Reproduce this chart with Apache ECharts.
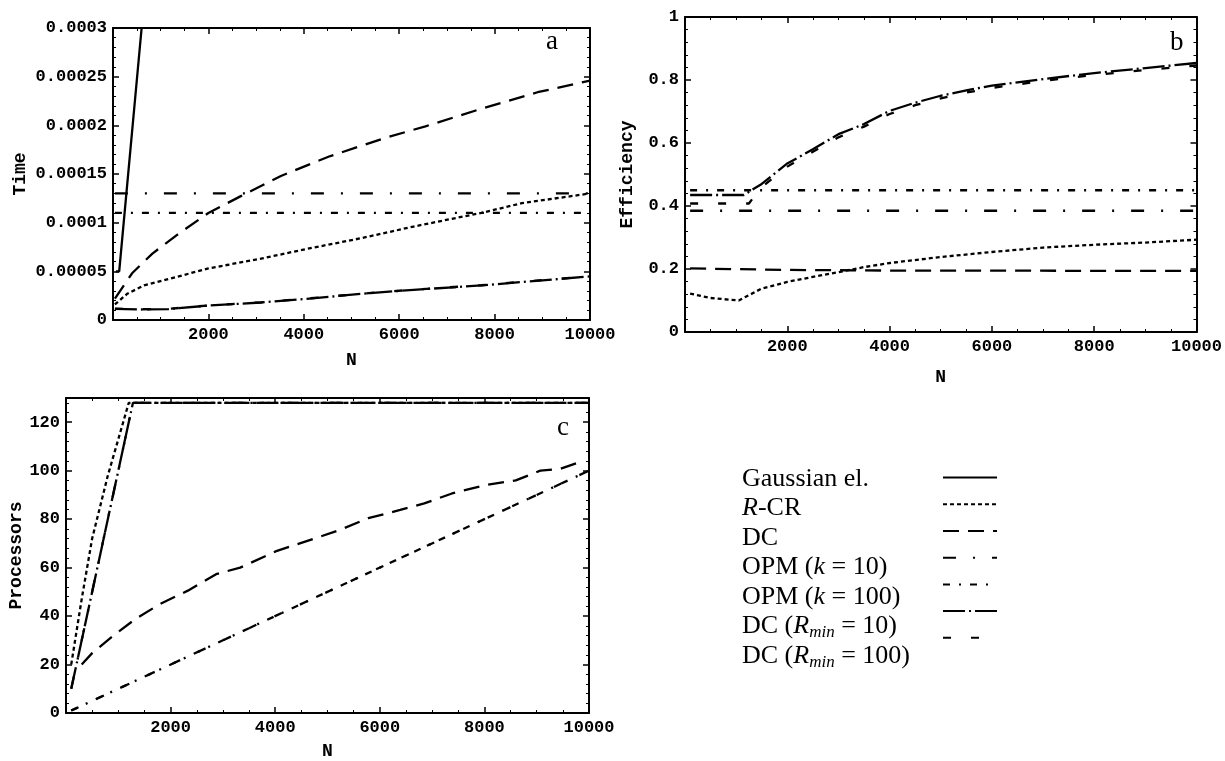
<!DOCTYPE html>
<html>
<head>
<meta charset="utf-8">
<script src="https://cdn.jsdelivr.net/npm/echarts@6/dist/echarts.min.js"></script>
<style>
html,body{margin:0;padding:0;background:#fff;}
#chart{width:1225px;height:761px;}
</style>
</head>
<body>
<div id="chart"></div>
<script>
// ---------- data ----------
const seriesNames = ['Gaussian el.', 'R-CR', 'DC', 'OPM (k = 10)', 'OPM (k = 100)', 'DC (Rmin = 10)', 'DC (Rmin = 100)'];

// x tick labels (N)
const nTicks = [2000, 4000, 6000, 8000, 10000];
// y tick labels
const timeTicks = ['0', '0.00005', '0.0001', '0.00015', '0.0002', '0.00025', '0.0003'];
const effTicks = ['0', '0.2', '0.4', '0.6', '0.8', '1'];
const procTicks = ['0', '20', '40', '60', '80', '100', '120'];

// Panel a: Time
const aGaussN = [60, 130, 600];
const aGaussT = [0.00005, 0.00005, 0.0003];
const aRcrN = [40, 300, 650, 1160, 2000, 3100, 4060, 5200, 6300, 7720, 8570, 10000];
const aRcrT = [0.000016, 0.000027, 0.0000355, 0.000042, 0.000053, 0.000063, 0.000073, 0.000084, 0.000096, 0.00011, 0.00012, 0.00013];
const aDcN = [40, 400, 820, 1330, 2000, 2670, 3520, 4530, 5700, 6550, 7720, 8900, 10000];
const aDcT = [0.000022, 0.000048, 0.000068, 0.000087, 0.00011, 0.000127, 0.000148, 0.000168, 0.000187, 0.000199, 0.000217, 0.000234, 0.000246];
const aOpm10N = [40, 10000];
const aOpm10T = [0.00013, 0.00013];
const aOpm100N = [40, 10000];
const aOpm100T = [0.00011, 0.00011];
const aR10N = [40, 600, 1160, 2000, 3100, 4060, 5200, 6300, 7720, 8570, 10000];
const aR10T = [0.0000114, 0.0000108, 0.0000112, 0.0000148, 0.000018, 0.0000217, 0.0000269, 0.000031, 0.0000355, 0.000039, 0.0000448];
const aR100N = [40, 600, 1160, 2000, 3100, 4060, 5200, 6300, 7720, 8570, 10000];
const aR100T = [0.0000116, 0.000011, 0.0000114, 0.000015, 0.0000182, 0.000022, 0.000027, 0.0000312, 0.0000357, 0.0000392, 0.000045];

// Panel b: Efficiency
const bRcrN = [100, 500, 1050, 1500, 2000, 2500, 3000, 3500, 4000, 5000, 6000, 7000, 8000, 9000, 10000];
const bRcrE = [0.122, 0.108, 0.100, 0.138, 0.159, 0.175, 0.19, 0.206, 0.219, 0.238, 0.254, 0.268, 0.277, 0.284, 0.293];
const bDcN = [100, 2000, 4000, 6000, 8000, 10000];
const bDcE = [0.202, 0.197, 0.195, 0.195, 0.194, 0.194];
const bOpm10N = [100, 10000];
const bOpm10E = [0.385, 0.385];
const bOpm100N = [100, 10000];
const bOpm100E = [0.45, 0.45];
const bR10N = [100, 1150, 1300, 1500, 2000, 2500, 3000, 3500, 4000, 4500, 5000, 5500, 6000, 7000, 8000, 9000, 10000];
const bR10E = [0.435, 0.435, 0.45, 0.47, 0.535, 0.58, 0.628, 0.66, 0.702, 0.728, 0.75, 0.767, 0.782, 0.803, 0.822, 0.838, 0.854];
const bR100N = [100, 1250, 1350, 1500, 2000, 2500, 3000, 3500, 4000, 4500, 5000, 5500, 6000, 7000, 8000, 9000, 10000];
const bR100E = [0.408, 0.408, 0.43, 0.46, 0.525, 0.572, 0.618, 0.652, 0.692, 0.72, 0.742, 0.76, 0.775, 0.797, 0.816, 0.832, 0.846];

// Panel c: Processors
const cRcrN = [100, 300, 500, 800, 1200, 10000];
const cRcrP = [20, 47, 72, 98, 128, 128];
const cDcN = [300, 500, 880, 1340, 1800, 2330, 2870, 3330, 4020, 4780, 5240, 5780, 6390, 6850, 7380, 8000, 8600, 9070, 9450, 9910];
const cDcP = [20, 24.7, 31.5, 39, 45, 50.5, 57.3, 60, 66.8, 72.2, 75.6, 80.4, 83.8, 86.5, 90.6, 94, 96, 100, 100.8, 104.2];
const cOpm10N = [100, 1280, 10000];
const cOpm10P = [10, 128, 128];
const cOpm100N = [100, 10000];
const cOpm100P = [1, 100];
const cR10N = [100, 1280, 10000];
const cR10P = [10, 128, 128];
const cR100N = [100, 10000];
const cR100P = [1, 100];

// ---------- styles ----------
const dashFor = {
  'Gaussian el.': 'solid',
  'R-CR': [4, 3],
  'DC': [16, 9],
  'OPM (k = 10)': [13, 17, 2, 17],
  'OPM (k = 100)': [7, 9, 2, 9],
  'DC (Rmin = 10)': [22, 4, 2, 4],
  'DC (Rmin = 100)': [8, 20]
};
const MONO = "'Liberation Mono', 'Courier New', monospace";
const SERIF = "'Liberation Serif', 'Times New Roman', serif";
const LW = 2.3;

function zip(xs, ys) { return xs.map((x, i) => [x, ys[i]]); }
function mk(name, idx, xs, ys) {
  return {
    name: name, type: 'line', xAxisIndex: idx * 2, yAxisIndex: idx * 2,
    data: zip(xs, ys), symbol: 'none', animation: false, clip: true,
    lineStyle: { color: '#000', width: LW, type: dashFor[name] },
    itemStyle: { color: '#000' }
  };
}

const grids = [
  { left: 113, top: 28, width: 477, height: 292 },
  { left: 685, top: 17, width: 512, height: 315 },
  { left: 66, top: 398, width: 523, height: 319 }
];
const nameStyle = { fontFamily: MONO, fontSize: 18, fontWeight: 'bold', color: '#000' };

function xAxes(gi, gap) {
  const base = {
    gridIndex: gi, type: 'value', min: 0, max: 10000, interval: 2000,
    axisLine: { show: true, onZero: false, lineStyle: { color: '#000', width: 2 } },
    axisTick: { show: true, inside: true, length: 6, lineStyle: { color: '#000', width: 1.5 } },
    minorTick: { show: true, splitNumber: 4, length: 3, lineStyle: { color: '#000', width: 1 } },
    splitLine: { show: false }
  };
  return [
    Object.assign({}, base, {
      position: 'bottom', name: 'N', nameLocation: 'middle', nameGap: gap,
      nameTextStyle: nameStyle,
      axisLabel: {
        show: true, margin: 6, fontFamily: MONO, fontSize: 17, fontWeight: 'bold', color: '#000',
        formatter: v => (nTicks.indexOf(v) >= 0 ? String(v) : '')
      }
    }),
    Object.assign({}, base, { position: 'top', axisLabel: { show: false } })
  ];
}
function yAxes(gi, max, interval, labels, name, gap) {
  const base = {
    gridIndex: gi, type: 'value', min: 0, max: max, interval: interval,
    axisLine: { show: true, onZero: false, lineStyle: { color: '#000', width: 2 } },
    axisTick: { show: true, inside: true, length: 6, lineStyle: { color: '#000', width: 1.5 } },
    minorTick: { show: true, splitNumber: 5, length: 3, lineStyle: { color: '#000', width: 1 } },
    splitLine: { show: false }
  };
  return [
    Object.assign({}, base, {
      position: 'left', name: name, nameLocation: 'middle', nameGap: gap, nameRotate: 90,
      nameTextStyle: nameStyle,
      axisLabel: {
        show: true, margin: 6, fontFamily: MONO, fontSize: 17, fontWeight: 'bold', color: '#000',
        formatter: v => {
          const k = Math.round(v / interval);
          return (Math.abs(k * interval - v) < interval * 1e-6 && k < labels.length) ? labels[k] : '';
        }
      }
    }),
    Object.assign({}, base, { position: 'right', axisLabel: { show: false } })
  ];
}

const series = [
  mk('Gaussian el.', 0, aGaussN, aGaussT),
  mk('R-CR', 0, aRcrN, aRcrT),
  mk('DC', 0, aDcN, aDcT),
  mk('OPM (k = 10)', 0, aOpm10N, aOpm10T),
  mk('OPM (k = 100)', 0, aOpm100N, aOpm100T),
  mk('DC (Rmin = 10)', 0, aR10N, aR10T),
  mk('DC (Rmin = 100)', 0, aR100N, aR100T),

  mk('R-CR', 1, bRcrN, bRcrE),
  mk('DC', 1, bDcN, bDcE),
  mk('OPM (k = 10)', 1, bOpm10N, bOpm10E),
  mk('OPM (k = 100)', 1, bOpm100N, bOpm100E),
  mk('DC (Rmin = 10)', 1, bR10N, bR10E),
  mk('DC (Rmin = 100)', 1, bR100N, bR100E),

  mk('R-CR', 2, cRcrN, cRcrP),
  mk('DC', 2, cDcN, cDcP),
  mk('OPM (k = 10)', 2, cOpm10N, cOpm10P),
  mk('OPM (k = 100)', 2, cOpm100N, cOpm100P),
  mk('DC (Rmin = 10)', 2, cR10N, cR10P),
  mk('DC (Rmin = 100)', 2, cR100N, cR100P)
];

const LEG_Y = 474, LEG_STEP = 29.5, LEG_FS = 26;
const legendRich = {
  i: { fontFamily: SERIF, fontStyle: 'italic', fontSize: LEG_FS, lineHeight: LEG_STEP, color: '#000' },
  s: { fontFamily: SERIF, fontStyle: 'italic', fontSize: 17, lineHeight: 14, verticalAlign: 'bottom', color: '#000' }
};
function legendLabel(name) {
  if (name === 'R-CR') return '{i|R}-CR';
  if (name.indexOf('OPM') === 0) return name.replace('k', '{i|k}');
  if (name.indexOf('Rmin') >= 0) return name.replace('Rmin', '{i|R}{s|min}');
  return name;
}

const option = {
  backgroundColor: '#fff',
  animation: false,
  grid: grids,
  xAxis: [].concat(xAxes(0, 31), xAxes(1, 36), xAxes(2, 29)),
  yAxis: [].concat(
    yAxes(0, 0.0003, 0.00005, timeTicks, 'Time', 84),
    yAxes(1, 1, 0.2, effTicks, 'Efficiency', 49),
    yAxes(2, 130, 20, procTicks, 'Processors', 39)
  ),
  legend: [
    { // line samples
      data: seriesNames, orient: 'vertical', left: 937, top: LEG_Y - 7,
      itemWidth: 54, itemHeight: 14, itemGap: LEG_STEP - 14, selectedMode: false,
      formatter: () => '', textStyle: { fontSize: 8, lineHeight: 8 },
      itemStyle: { opacity: 0 }
    },
    { // text labels
      data: seriesNames, orient: 'vertical', left: 731, top: LEG_Y - LEG_STEP / 2,
      itemWidth: 1, itemHeight: 2, itemGap: 0, selectedMode: false, icon: 'rect',
      itemStyle: { opacity: 0 }, lineStyle: { opacity: 0 },
      formatter: legendLabel,
      textStyle: { fontFamily: SERIF, fontSize: LEG_FS, lineHeight: LEG_STEP, color: '#000', rich: legendRich }
    }
  ],
  graphic: [
    { type: 'text', left: 546, top: 28, style: { text: 'a', font: '27px ' + SERIF, fill: '#000' } },
    { type: 'text', left: 1170, top: 29, style: { text: 'b', font: '27px ' + SERIF, fill: '#000' } },
    { type: 'text', left: 557, top: 414, style: { text: 'c', font: '27px ' + SERIF, fill: '#000' } }
  ],
  series: series
};

const chart = echarts.init(document.getElementById('chart'), null, { renderer: 'canvas' });
chart.setOption(option);
</script>
</body>
</html>
